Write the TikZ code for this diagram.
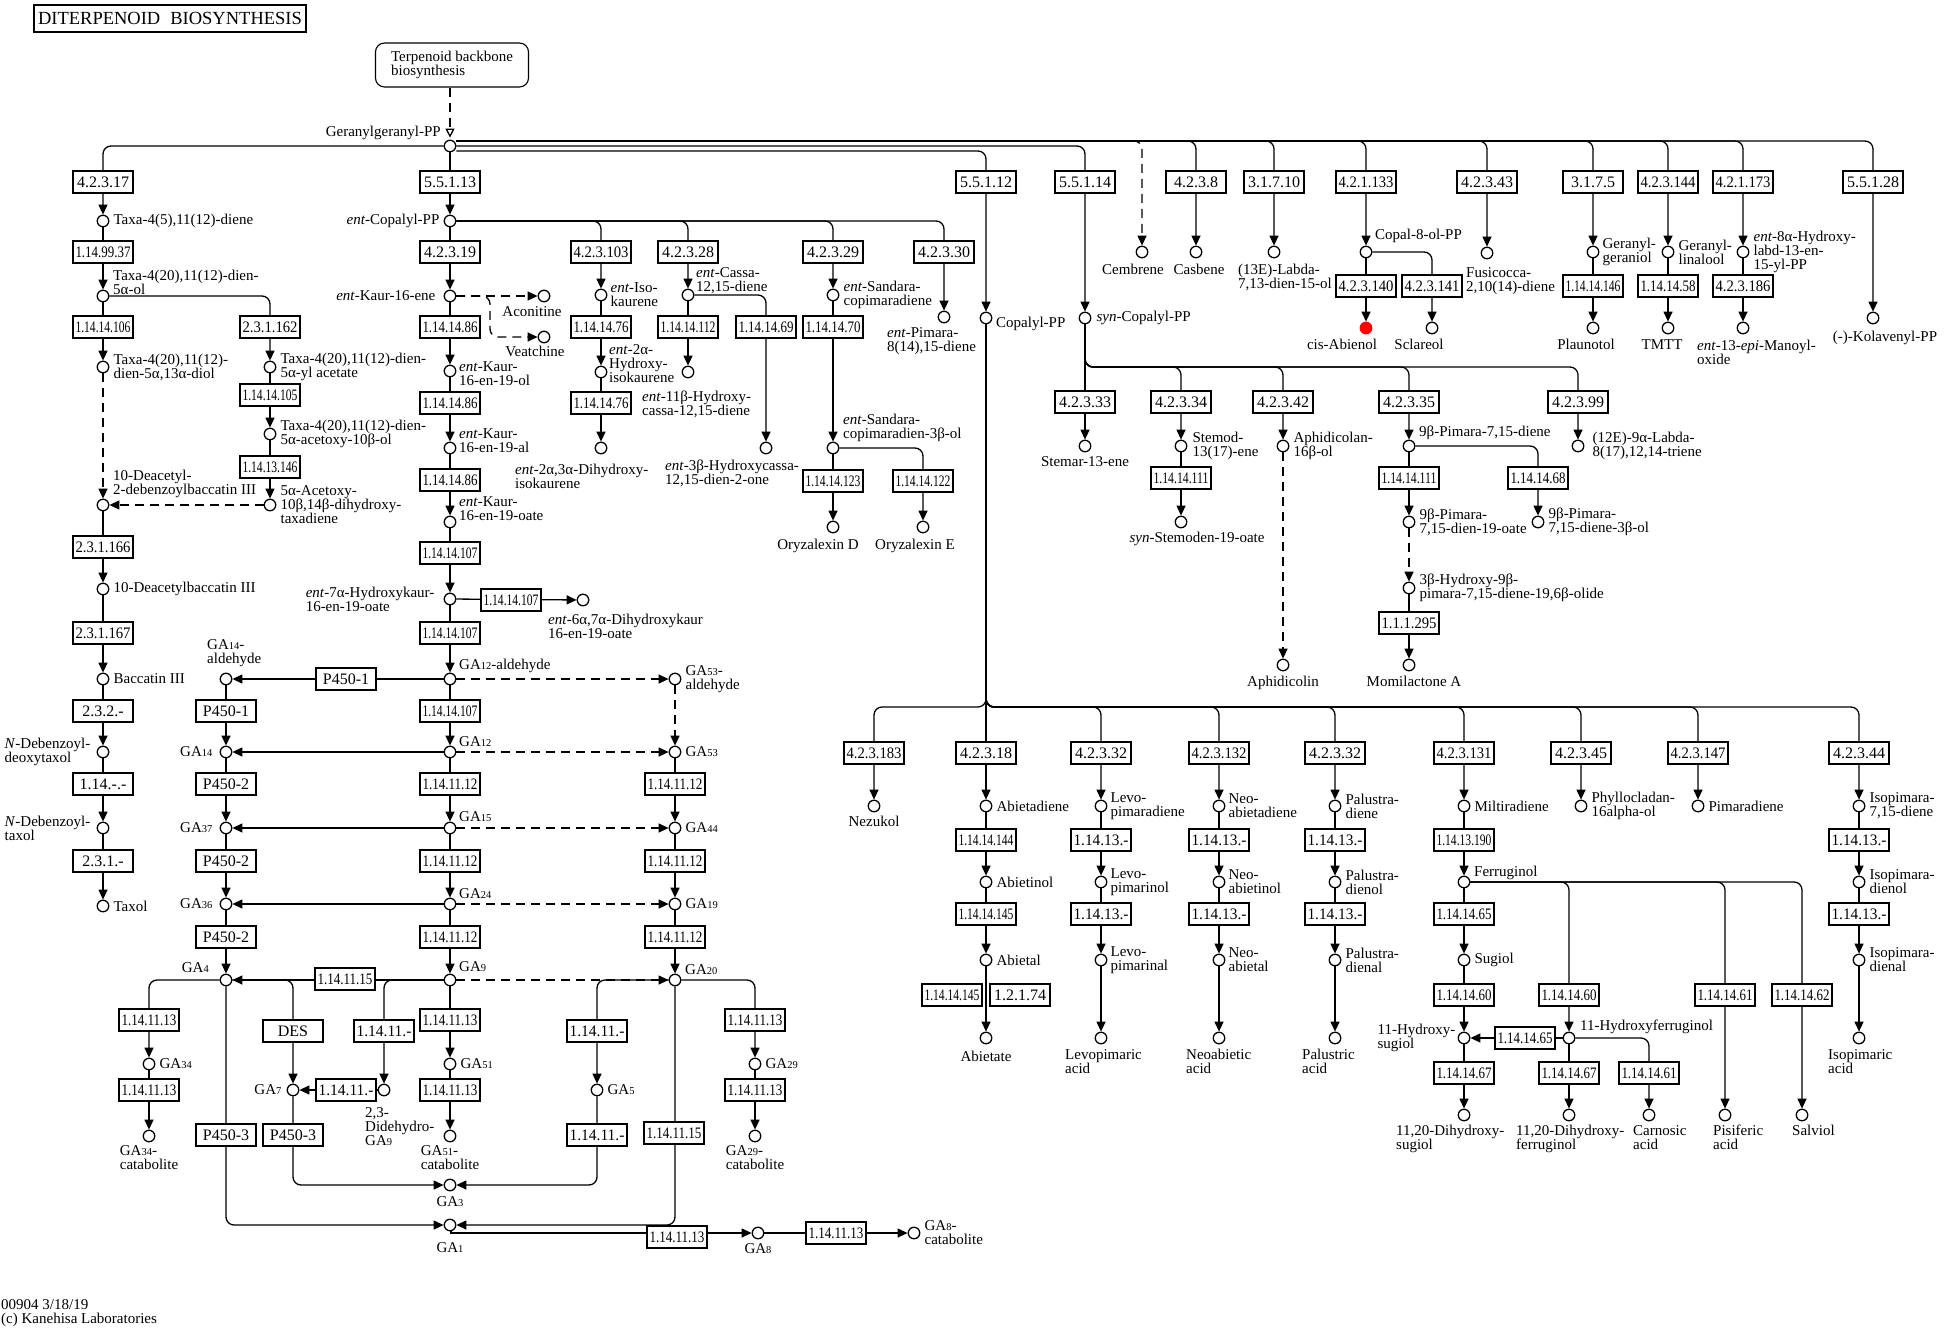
\documentclass[tikz,border=0pt]{standalone}
\usepackage{fontspec}
\setmainfont{Liberation Serif}
\usetikzlibrary{positioning,arrows.meta}
\pgfdeclarelayer{bg}
\pgfsetlayers{bg,main}
\newcommand{\lblfont}{\fontsize{15}{14}\selectfont}
\newcommand{\ecfont}{\fontsize{16}{16}\selectfont}
\newcommand{\titlefont}{\fontsize{18.5}{18.5}\selectfont}
\newcommand{\gan}[1]{GA{\fontsize{10.5}{10.5}\selectfont #1}}
\newcommand{\entp}{\textit{ent}-}
\newcommand{\ecsqueeze}{\ifdim\wd0>55pt\pgfmathsetmacro\ecf{55/\the\wd0}\scalebox{\ecf}[1]{\box0}\else\box0\fi}
\tikzset{
  cpd/.style={circle,draw,line width=1.3pt,minimum size=11.5pt,inner sep=0pt,fill=white},
  hit/.style={cpd,draw=red,fill=red},
  ec/.style={draw,line width=1.1pt,minimum width=60pt,minimum height=22pt,inner sep=0pt,fill=white,font=\ecfont,
    execute at begin node={\setbox0=\hbox\bgroup},execute at end node={\egroup\ecsqueeze}},
  lbl/.style={inner sep=0pt,align=left,font=\lblfont},
  titlebox/.style={draw,line width=2.4pt,minimum width=272pt,minimum height=27pt,font=\titlefont},
  mapbox/.style={draw,line width=1.1pt,rounded corners=9pt,minimum width=153pt,minimum height=44pt,align=left,font=\lblfont},
  cline/.style={line width=1.3pt},
  rxn/.style={cline,-{Triangle[length=10pt,width=9pt]}},
  dlink/.style={dash pattern=on 9pt off 6pt},
  bus/.style={rounded corners=8pt}
}
\begin{document}
\begin{tikzpicture}[x=1pt,y=-1pt]
\useasboundingbox (0,0) rectangle (1944,1330);
\node[titlebox] (title) at (170,18.5) {DITERPENOID\hspace{10pt}BIOSYNTHESIS};
\node[mapbox] (terp) at (452,65) {Terpenoid backbone\\biosynthesis};
\node[cpd] (ggpp) at (450,146) {};
\node[lbl,anchor=east] (ggppl) at (441,133) {Geranylgeranyl-PP};

% taxol
\node[ec] (et1) at (103,182) {4.2.3.17};
\node[cpd] (tx1) at (103,221) {}; \node[lbl,right=4pt of tx1] (tx1l) {Taxa-4(5),11(12)-diene};
\node[ec] (et2) at (103,252) {1.14.99.37};
\node[cpd] (tx2) at (103,296) {}; \node[lbl,anchor=west] (tx2l) at (113,282) {Taxa-4(20),11(12)-dien-\\5α-ol};
\node[ec] (et3) at (103,327) {1.14.14.106}; \node[ec] (et4) at (270,327) {2.3.1.162};
\node[cpd] (tx3) at (103,367) {}; \node[lbl,right=4pt of tx3] (tx3l) {Taxa-4(20),11(12)-\\dien-5α,13α-diol};
\node[cpd] (tx4) at (270,367) {}; \node[lbl,right=4pt of tx4] (tx4l) {Taxa-4(20),11(12)-dien-\\5α-yl acetate};
\node[ec] (et5) at (270,395) {1.14.14.105};
\node[cpd] (tx5) at (270,434) {}; \node[lbl,right=4pt of tx5] (tx5l) {Taxa-4(20),11(12)-dien-\\5α-acetoxy-10β-ol};
\node[ec] (et6) at (270,467) {1.14.13.146};
\node[cpd] (tx6) at (270,505) {}; \node[lbl,right=4pt of tx6] (tx6l) {5α-Acetoxy-\\10β,14β-dihydroxy-\\taxadiene};
\node[cpd] (tx7) at (103,505) {}; \node[lbl,anchor=west] (tx7l) at (113,484) {10-Deacetyl-\\2-debenzoylbaccatin III};
\node[ec] (et7) at (103,547) {2.3.1.166};
\node[cpd] (tx8) at (103,589) {}; \node[lbl,right=4pt of tx8] (tx8l) {10-Deacetylbaccatin III};
\node[ec] (et8) at (103,633) {2.3.1.167};
\node[cpd] (tx9) at (103,679) {}; \node[lbl,right=4pt of tx9] (tx9l) {Baccatin III};
\node[ec] (et9) at (103,711) {2.3.2.-};
\node[cpd] (tx10) at (103,752) {}; \node[lbl,left=6pt of tx10] (tx10l) {\textit{N}-Debenzoyl-\\deoxytaxol};
\node[ec] (et10) at (103,784) {1.14.-.-};
\node[cpd] (tx11) at (103,828) {}; \node[lbl,left=6pt of tx11] (tx11l) {\textit{N}-Debenzoyl-\\taxol};
\node[ec] (et11) at (103,861) {2.3.1.-};
\node[cpd] (tx12) at (103,906) {}; \node[lbl,right=4pt of tx12] (tx12l) {Taxol};

% kaurene and gibberellins
\node[ec] (ek1) at (450,182) {5.5.1.13};
\node[cpd] (ecpp) at (450,221) {}; \node[lbl,left=4pt of ecpp] (ecppl) {\entp Copalyl-PP};
\node[ec] (ek2) at (450,252) {4.2.3.19};
\node[cpd] (kaur) at (450,296) {}; \node[lbl,left=8pt of kaur] (kaurl) {\entp Kaur-16-ene};
\coordinate (kaursplit) at (490,296);
\node[cpd] (aconitine) at (544,296) {}; \node[lbl,anchor=north] (aconitinel) at (532,306) {Aconitine};
\node[cpd] (veatchine) at (544,337) {}; \node[lbl,anchor=north] (veatchinel) at (535,346) {Veatchine};
\node[ec] (ek3) at (450,327) {1.14.14.86};
\node[cpd] (kaurol) at (450,371) {}; \node[lbl,anchor=west] (kauroll) at (459,374) {\entp Kaur-\\16-en-19-ol};
\node[ec] (ek4) at (450,403) {1.14.14.86};
\node[cpd] (kaural) at (450,448) {}; \node[lbl,anchor=west] (kaurall) at (459,441) {\entp Kaur-\\16-en-19-al};
\node[ec] (ek5) at (450,480) {1.14.14.86};
\node[cpd] (kauroate) at (450,522) {}; \node[lbl,anchor=west] (kauroatel) at (459,509) {\entp Kaur-\\16-en-19-oate};
\node[ec] (ek6) at (450,553) {1.14.14.107};
\node[cpd] (hk) at (450,599) {}; \node[lbl,left=9pt of hk] (hkl) {\entp 7α-Hydroxykaur-\\16-en-19-oate};
\node[ec] (ek7) at (511,600) {1.14.14.107};
\node[cpd] (dhk) at (583,600) {}; \node[lbl,anchor=west] (dhkl) at (548,626) {\entp 6α,7α-Dihydroxykaur\\16-en-19-oate};
\node[ec] (ek8) at (450,633) {1.14.14.107};
\node[cpd] (ga12ald) at (450,679) {}; \node[lbl,anchor=west] (ga12aldl) at (459,666) {\gan{12}-aldehyde};
\node[ec] (eg1) at (346,679) {P450-1};
\node[cpd] (ga14ald) at (226,679) {}; \node[lbl,anchor=west] (ga14aldl) at (207,653) {\gan{14}-\\aldehyde};
\node[cpd] (ga53ald) at (675,679) {}; \node[lbl,right=4pt of ga53ald] (ga53aldl) {\gan{53}-\\aldehyde};
\node[ec] (eg2) at (226,711) {P450-1}; \node[ec] (eg3) at (450,711) {1.14.14.107};
\node[cpd] (ga14) at (226,752) {}; \node[lbl,left=7pt of ga14] (ga14l) {\gan{14}};
\node[cpd] (ga12) at (450,752) {}; \node[lbl,anchor=west] (ga12l) at (459,742) {\gan{12}};
\node[cpd] (ga53) at (675,752) {}; \node[lbl,right=4pt of ga53] (ga53l) {\gan{53}};
\node[ec] (eg4) at (226,784) {P450-2}; \node[ec] (eg5) at (450,784) {1.14.11.12}; \node[ec] (eg6) at (675,784) {1.14.11.12};
\node[cpd] (ga37) at (226,828) {}; \node[lbl,left=7pt of ga37] (ga37l) {\gan{37}};
\node[cpd] (ga15) at (450,828) {}; \node[lbl,anchor=west] (ga15l) at (459,817) {\gan{15}};
\node[cpd] (ga44) at (675,828) {}; \node[lbl,right=4pt of ga44] (ga44l) {\gan{44}};
\node[ec] (eg7) at (226,861) {P450-2}; \node[ec] (eg8) at (450,861) {1.14.11.12}; \node[ec] (eg9) at (675,861) {1.14.11.12};
\node[cpd] (ga36) at (226,904) {}; \node[lbl,left=7pt of ga36] (ga36l) {\gan{36}};
\node[cpd] (ga24) at (450,904) {}; \node[lbl,anchor=west] (ga24l) at (459,894) {\gan{24}};
\node[cpd] (ga19) at (675,904) {}; \node[lbl,right=4pt of ga19] (ga19l) {\gan{19}};
\node[ec] (eg10) at (226,937) {P450-2}; \node[ec] (eg11) at (450,937) {1.14.11.12}; \node[ec] (eg12) at (675,937) {1.14.11.12};
\node[cpd] (ga4) at (226,980) {}; \node[lbl,anchor=east] (ga4l) at (209,968) {\gan{4}};
\node[cpd] (ga9) at (450,980) {}; \node[lbl,anchor=west] (ga9l) at (459,967) {\gan{9}};
\node[cpd] (ga20) at (675,980) {}; \node[lbl,anchor=west] (ga20l) at (685,970) {\gan{20}};
\node[ec] (eg13) at (345,979) {1.14.11.15};
\node[ec] (eg14) at (149,1020) {1.14.11.13}; \node[ec] (eg15) at (293,1031) {DES}; \node[ec] (eg16) at (384,1031) {1.14.11.-};
\node[ec] (eg17) at (450,1020) {1.14.11.13}; \node[ec] (eg18) at (597,1031) {1.14.11.-}; \node[ec] (eg19) at (755,1020) {1.14.11.13};
\node[cpd] (ga34) at (149,1064) {}; \node[lbl,right=4pt of ga34] (ga34l) {\gan{34}};
\node[cpd] (ga51) at (450,1064) {}; \node[lbl,right=4pt of ga51] (ga51l) {\gan{51}};
\node[cpd] (ga29) at (755,1064) {}; \node[lbl,right=4pt of ga29] (ga29l) {\gan{29}};
\node[cpd] (ga7) at (293,1090) {}; \node[lbl,left=5pt of ga7] (ga7l) {\gan{7}};
\node[ec] (eg20) at (346,1090) {1.14.11.-};
\node[cpd] (dhga9) at (384,1090) {}; \node[lbl,anchor=west] (dhga9l) at (365,1127) {2,3-\\Didehydro-\\\gan{9}};
\node[cpd] (ga5) at (597,1090) {}; \node[lbl,right=4pt of ga5] (ga5l) {\gan{5}};
\node[ec] (eg21) at (149,1090) {1.14.11.13}; \node[ec] (eg22) at (450,1090) {1.14.11.13}; \node[ec] (eg23) at (755,1090) {1.14.11.13};
\node[ec] (eg24) at (226,1135) {P450-3}; \node[ec] (eg25) at (293,1135) {P450-3};
\node[ec] (eg26) at (597,1135) {1.14.11.-}; \node[ec] (eg27) at (674,1133) {1.14.11.15};
\node[cpd] (ga34c) at (149,1136) {}; \node[lbl,below=3pt of ga34c] (ga34cl) {\gan{34}-\\catabolite};
\node[cpd] (ga51c) at (450,1136) {}; \node[lbl,below=3pt of ga51c] (ga51cl) {\gan{51}-\\catabolite};
\node[cpd] (ga29c) at (755,1136) {}; \node[lbl,below=3pt of ga29c] (ga29cl) {\gan{29}-\\catabolite};
\node[cpd] (ga3) at (450,1185) {}; \node[lbl,below=5pt of ga3] (ga3l) {\gan{3}};
\node[cpd] (ga1) at (450,1225) {}; \node[lbl,anchor=north] (ga1l) at (450,1242) {\gan{1}};
\node[ec] (eg28) at (677,1237) {1.14.11.13};
\node[cpd] (ga8) at (758,1233) {}; \node[lbl,below=4pt of ga8] (ga8l) {\gan{8}};
\node[ec] (eg29) at (836,1233) {1.14.11.13};
\node[cpd] (ga8c) at (914,1233) {}; \node[lbl,right=4pt of ga8c] (ga8cl) {\gan{8}-\\catabolite};

% ent-copalyl-PP side branches
\node[ec] (ec1) at (601,252) {4.2.3.103};
\node[cpd] (iso) at (601,295) {}; \node[lbl,right=3pt of iso] (isol) {\entp Iso-\\kaurene};
\node[ec] (ec2) at (601,327) {1.14.14.76};
\node[cpd] (hiso) at (601,372) {}; \node[lbl,anchor=west] (hisol) at (609,364) {\entp 2α-\\Hydroxy-\\isokaurene};
\node[ec] (ec3) at (601,403) {1.14.14.76};
\node[cpd] (dhiso) at (601,448) {}; \node[lbl,anchor=west] (dhisol) at (515,476) {\entp 2α,3α-Dihydroxy-\\isokaurene};
\node[ec] (ec4) at (688,252) {4.2.3.28};
\node[cpd] (cassa) at (688,295) {}; \node[lbl,anchor=west] (cassal) at (696,281) {\entp Cassa-\\12,15-diene};
\node[ec] (ec5) at (688,327) {1.14.14.112};
\node[cpd] (hcassa) at (688,372) {}; \node[lbl,anchor=west] (hcassal) at (642,404) {\entp 11β-Hydroxy-\\cassa-12,15-diene};
\node[ec] (ec6) at (766,327) {1.14.14.69};
\node[cpd] (hcassaone) at (766,448) {}; \node[lbl,anchor=west] (hcassaonel) at (665,473) {\entp 3β-Hydroxycassa-\\12,15-dien-2-one};
\node[ec] (ec7) at (833,252) {4.2.3.29};
\node[cpd] (sandara) at (833,295) {}; \node[lbl,right=4pt of sandara] (sandaral) {\entp Sandara-\\copimaradiene};
\node[ec] (ec8) at (833,327) {1.14.14.70};
\node[cpd] (sandaraol) at (833,448) {}; \node[lbl,anchor=west] (sandaraoll) at (843,428) {\entp Sandara-\\copimaradien-3β-ol};
\node[ec] (ec9) at (833,481) {1.14.14.123}; \node[ec] (ec10) at (923,481) {1.14.14.122};
\node[cpd] (oryd) at (833,527) {}; \node[lbl,anchor=north] (orydl) at (818,539) {Oryzalexin D};
\node[cpd] (orye) at (923,527) {}; \node[lbl,anchor=north] (oryel) at (915,539) {Oryzalexin E};
\node[ec] (ec11) at (944,252) {4.2.3.30};
\node[cpd] (pimara) at (944,317) {}; \node[lbl,anchor=west] (pimaral) at (887,341) {\entp Pimara-\\8(14),15-diene};

% upper right products
\node[ec] (er1) at (986,182) {5.5.1.12};
\node[cpd] (cpp) at (986,318) {}; \node[lbl,anchor=west] (cppl) at (996,324) {Copalyl-PP};
\node[ec] (er2) at (1085,182) {5.5.1.14};
\node[cpd] (syncpp) at (1085,318) {}; \node[lbl,right=5pt of syncpp] (syncppl) {\textit{syn}-Copalyl-PP};
\node[cpd] (cembrene) at (1142,252) {}; \node[lbl,anchor=north] (cembrenel) at (1133,264) {Cembrene};
\node[ec] (er3) at (1196,182) {4.2.3.8};
\node[cpd] (casbene) at (1196,252) {}; \node[lbl,anchor=north] (casbenel) at (1199,264) {Casbene};
\node[ec] (er4) at (1274,182) {3.1.7.10};
\node[cpd] (labda) at (1274,252) {}; \node[lbl,anchor=north] (labdal) at (1285,264) {(13E)-Labda-\\7,13-dien-15-ol};
\node[ec] (er5) at (1366,182) {4.2.1.133};
\node[cpd] (copal) at (1366,252) {}; \node[lbl,anchor=west] (copall) at (1375,236) {Copal-8-ol-PP};
\node[ec] (er6) at (1366,286) {4.2.3.140}; \node[ec] (er7) at (1432,286) {4.2.3.141};
\node[hit] (cisab) at (1366,328) {}; \node[lbl,anchor=north] (cisabl) at (1342,339) {cis-Abienol};
\node[cpd] (sclareol) at (1432,328) {}; \node[lbl,anchor=north] (sclareoll) at (1419,339) {Sclareol};
\node[ec] (er8) at (1487,182) {4.2.3.43};
\node[cpd] (fusi) at (1487,253) {}; \node[lbl,anchor=west] (fusil) at (1466,281) {Fusicocca-\\2,10(14)-diene};
\node[ec] (er9) at (1593,182) {3.1.7.5};
\node[cpd] (ggol) at (1593,252) {}; \node[lbl,right=3pt of ggol] (ggoll) {Geranyl-\\geraniol};
\node[ec] (er10) at (1593,286) {1.14.14.146};
\node[cpd] (plaunotol) at (1593,328) {}; \node[lbl,anchor=north] (plaunotoll) at (1586,339) {Plaunotol};
\node[ec] (er11) at (1668,182) {4.2.3.144};
\node[cpd] (glin) at (1668,252) {}; \node[lbl,right=4pt of glin] (glinl) {Geranyl-\\linalool};
\node[ec] (er12) at (1668,286) {1.14.14.58};
\node[cpd] (tmtt) at (1668,328) {}; \node[lbl,anchor=north] (tmttl) at (1662,339) {TMTT};
\node[ec] (er13) at (1743,182) {4.2.1.173};
\node[cpd] (hlabd) at (1743,252) {}; \node[lbl,right=4pt of hlabd] (hlabdl) {\entp 8α-Hydroxy-\\labd-13-en-\\15-yl-PP};
\node[ec] (er14) at (1743,286) {4.2.3.186};
\node[cpd] (manoyl) at (1743,328) {}; \node[lbl,anchor=north west] (manoyll) at (1697,340) {\entp 13-\textit{epi}-Manoyl-\\oxide};
\node[ec] (er15) at (1873,182) {5.5.1.28};
\node[cpd] (kolav) at (1873,318) {}; \node[lbl,anchor=north] (kolavl) at (1885,331) {(-)-Kolavenyl-PP};

% syn-copalyl-PP
\coordinate (synbus) at (1085,367);
\node[ec] (es1) at (1085,402) {4.2.3.33};
\node[cpd] (stemar) at (1085,446) {}; \node[lbl,below=4pt of stemar] (stemarl) {Stemar-13-ene};
\node[ec] (es2) at (1181,402) {4.2.3.34};
\node[cpd] (stemod) at (1181,446) {}; \node[lbl,right=5pt of stemod] (stemodl) {Stemod-\\13(17)-ene};
\node[ec] (es3) at (1181,478) {1.14.14.111};
\node[cpd] (stemodoate) at (1181,522) {}; \node[lbl,anchor=north] (stemodoatel) at (1197,532) {\textit{syn}-Stemoden-19-oate};
\node[ec] (es4) at (1283,402) {4.2.3.42};
\node[cpd] (aphol) at (1283,446) {}; \node[lbl,right=4pt of aphol] (apholl) {Aphidicolan-\\16β-ol};
\node[cpd] (aphidicolin) at (1283,665) {}; \node[lbl,below=4pt of aphidicolin] (aphidicolinl) {Aphidicolin};
\node[ec] (es5) at (1409,402) {4.2.3.35};
\node[cpd] (pim) at (1409,446) {}; \node[lbl,anchor=west] (piml) at (1419,433) {9β-Pimara-7,15-diene};
\node[ec] (es6) at (1409,478) {1.14.14.111};
\node[cpd] (pimoate) at (1409,522) {}; \node[lbl,right=4pt of pimoate] (pimoatel) {9β-Pimara-\\7,15-dien-19-oate};
\node[cpd] (hpim) at (1409,588) {}; \node[lbl,right=4pt of hpim] (hpiml) {3β-Hydroxy-9β-\\pimara-7,15-diene-19,6β-olide};
\node[ec] (es7) at (1409,623) {1.1.1.295};
\node[cpd] (momil) at (1409,665) {}; \node[lbl,anchor=north] (momill) at (1414,676) {Momilactone A};
\node[ec] (es8) at (1538,478) {1.14.14.68};
\node[cpd] (pim3ol) at (1538,522) {}; \node[lbl,right=4pt of pim3ol] (pim3oll) {9β-Pimara-\\7,15-diene-3β-ol};
\node[ec] (es9) at (1578,402) {4.2.3.99};
\node[cpd] (ltriene) at (1578,446) {}; \node[lbl,right=8pt of ltriene] (ltrienel) {(12E)-9α-Labda-\\8(17),12,14-triene};

% copalyl-PP
\coordinate (cppbus) at (986,707);
\node[ec] (en1) at (874,753) {4.2.3.183};
\node[cpd] (nezukol) at (874,806) {}; \node[lbl,below=3pt of nezukol] (nezukoll) {Nezukol};
\node[ec] (ea1) at (986,753) {4.2.3.18};
\node[cpd] (abd) at (986,806) {}; \node[lbl,right=4pt of abd] (abdl) {Abietadiene};
\node[ec] (ea2) at (986,840) {1.14.14.144};
\node[cpd] (abnol) at (986,882) {}; \node[lbl,right=4pt of abnol] (abnoll) {Abietinol};
\node[ec] (ea3) at (986,914) {1.14.14.145};
\node[cpd] (abal) at (986,960) {}; \node[lbl,right=4pt of abal] (aball) {Abietal};
\node[ec] (ea4) at (952,995) {1.14.14.145}; \node[ec] (ea5) at (1020,995) {1.2.1.74};
\node[cpd] (abate) at (986,1038) {}; \node[lbl,below=6pt of abate] (abatel) {Abietate};
\node[ec] (el1) at (1101,753) {4.2.3.32};
\node[cpd] (lv1) at (1101,806) {}; \node[lbl,right=3pt of lv1] (lv1l) {Levo-\\pimaradiene};
\node[ec] (el2) at (1101,840) {1.14.13.-};
\node[cpd] (lv2) at (1101,882) {}; \node[lbl,right=3pt of lv2] (lv2l) {Levo-\\pimarinol};
\node[ec] (el3) at (1101,914) {1.14.13.-};
\node[cpd] (lv3) at (1101,960) {}; \node[lbl,right=3pt of lv3] (lv3l) {Levo-\\pimarinal};
\node[cpd] (lv4) at (1101,1038) {}; \node[lbl,anchor=north west] (lv4l) at (1065,1049) {Levopimaric\\acid};
\node[ec] (eo1) at (1219,753) {4.2.3.132};
\node[cpd] (ne1) at (1219,806) {}; \node[lbl,right=3pt of ne1] (ne1l) {Neo-\\abietadiene};
\node[ec] (eo2) at (1219,840) {1.14.13.-};
\node[cpd] (ne2) at (1219,882) {}; \node[lbl,right=3pt of ne2] (ne2l) {Neo-\\abietinol};
\node[ec] (eo3) at (1219,914) {1.14.13.-};
\node[cpd] (ne3) at (1219,960) {}; \node[lbl,right=3pt of ne3] (ne3l) {Neo-\\abietal};
\node[cpd] (ne4) at (1219,1038) {}; \node[lbl,anchor=north west] (ne4l) at (1186,1049) {Neoabietic\\acid};
\node[ec] (ep1) at (1335,753) {4.2.3.32};
\node[cpd] (pa1) at (1335,806) {}; \node[lbl,right=4pt of pa1] (pa1l) {Palustra-\\diene};
\node[ec] (ep2) at (1335,840) {1.14.13.-};
\node[cpd] (pa2) at (1335,882) {}; \node[lbl,right=4pt of pa2] (pa2l) {Palustra-\\dienol};
\node[ec] (ep3) at (1335,914) {1.14.13.-};
\node[cpd] (pa3) at (1335,960) {}; \node[lbl,right=4pt of pa3] (pa3l) {Palustra-\\dienal};
\node[cpd] (pa4) at (1335,1038) {}; \node[lbl,anchor=north west] (pa4l) at (1302,1049) {Palustric\\acid};
\node[ec] (em1) at (1464,753) {4.2.3.131};
\node[cpd] (milti) at (1464,806) {}; \node[lbl,right=4pt of milti] (miltil) {Miltiradiene};
\node[ec] (em2) at (1464,840) {1.14.13.190};
\node[cpd] (ferr) at (1464,882) {}; \node[lbl,anchor=west] (ferrl) at (1474,873) {Ferruginol};
\node[ec] (em3) at (1464,914) {1.14.14.65};
\node[cpd] (sugiol) at (1464,960) {}; \node[lbl,right=4pt of sugiol] (sugioll) {Sugiol};
\node[ec] (em4) at (1464,995) {1.14.14.60};
\node[cpd] (hsug) at (1464,1038) {}; \node[lbl,left=2pt of hsug] (hsugl) {11-Hydroxy-\\sugiol};
\node[ec] (em5) at (1464,1073) {1.14.14.67};
\node[cpd] (dhsug) at (1464,1115) {}; \node[lbl,anchor=north west] (dhsugl) at (1396,1125) {11,20-Dihydroxy-\\sugiol};
\node[ec] (em6) at (1569,995) {1.14.14.60};
\node[cpd] (hferr) at (1569,1038) {}; \node[lbl,anchor=west] (hferrl) at (1580,1027) {11-Hydroxyferruginol};
\node[ec] (em7) at (1525,1038) {1.14.14.65};
\node[ec] (em8) at (1569,1073) {1.14.14.67};
\node[cpd] (dhferr) at (1569,1115) {}; \node[lbl,anchor=north west] (dhferrl) at (1516,1125) {11,20-Dihydroxy-\\ferruginol};
\node[ec] (em9) at (1649,1073) {1.14.14.61};
\node[cpd] (carnosic) at (1649,1115) {}; \node[lbl,anchor=north west] (carnosicl) at (1633,1125) {Carnosic\\acid};
\node[ec] (em10) at (1725,995) {1.14.14.61};
\node[cpd] (pisif) at (1725,1115) {}; \node[lbl,anchor=north west] (pisifl) at (1713,1125) {Pisiferic\\acid};
\node[ec] (em11) at (1802,995) {1.14.14.62};
\node[cpd] (salviol) at (1802,1115) {}; \node[lbl,anchor=north west] (salvioll) at (1792,1125) {Salviol};
\node[ec] (eh1) at (1581,753) {4.2.3.45};
\node[cpd] (phyllo) at (1581,806) {}; \node[lbl,right=4pt of phyllo] (phyllol) {Phyllocladan-\\16alpha-ol};
\node[ec] (ei1) at (1698,753) {4.2.3.147};
\node[cpd] (pmd) at (1698,806) {}; \node[lbl,right=4pt of pmd] (pmdl) {Pimaradiene};
\node[ec] (ej1) at (1859,753) {4.2.3.44};
\node[cpd] (ip1) at (1859,806) {}; \node[lbl,right=4pt of ip1] (ip1l) {Isopimara-\\7,15-diene};
\node[ec] (ej2) at (1859,840) {1.14.13.-};
\node[cpd] (ip2) at (1859,882) {}; \node[lbl,right=4pt of ip2] (ip2l) {Isopimara-\\dienol};
\node[ec] (ej3) at (1859,914) {1.14.13.-};
\node[cpd] (ip3) at (1859,960) {}; \node[lbl,right=4pt of ip3] (ip3l) {Isopimara-\\dienal};
\node[cpd] (ip4) at (1859,1038) {}; \node[lbl,anchor=north west] (ip4l) at (1828,1049) {Isopimaric\\acid};

\node[lbl,anchor=south west] (foot) at (1,1327) {00904 3/18/19\\(c) Kanehisa Laboratories};

\begin{pgfonlayer}{bg}
\draw[cline,dlink,-{Triangle[open,length=9pt,width=9pt]},shorten >=2pt] (terp.south -| ggpp) -- (ggpp);
\draw[rxn,bus] (ggpp) -| (tx1); \draw[rxn] (ggpp) -- (ecpp);
\draw[rxn,bus] ([yshift=-5pt]ggpp.east) -| (cpp); \draw[rxn,bus] (ggpp) -| (syncpp);
\draw[rxn,bus,dlink] ([yshift=5pt]ggpp.east) -| (cembrene);
\draw[rxn,bus] ([yshift=5pt]ggpp.east) -| (casbene); \draw[rxn,bus] ([yshift=5pt]ggpp.east) -| (labda);
\draw[rxn,bus] ([yshift=5pt]ggpp.east) -| (copal); \draw[rxn,bus] ([yshift=5pt]ggpp.east) -| (fusi);
\draw[rxn,bus] ([yshift=5pt]ggpp.east) -| (ggol); \draw[rxn,bus] ([yshift=5pt]ggpp.east) -| (glin);
\draw[rxn,bus] ([yshift=5pt]ggpp.east) -| (hlabd); \draw[rxn,bus] ([yshift=5pt]ggpp.east) -| (kolav);

\draw[rxn] (tx1) -- (tx2); \draw[rxn] (tx2) -- (tx3); \draw[rxn,bus] (tx2) -| (tx4);
\draw[rxn,dlink] (tx3) -- (tx7); \draw[rxn] (tx4) -- (tx5); \draw[rxn] (tx5) -- (tx6);
\draw[rxn,dlink] (tx6) -- (tx7); \draw[rxn] (tx7) -- (tx8); \draw[rxn] (tx8) -- (tx9);
\draw[rxn] (tx9) -- (tx10); \draw[rxn] (tx10) -- (tx11); \draw[rxn] (tx11) -- (tx12);

\draw[rxn] (ecpp) -- (kaur); \draw[rxn] (kaur) -- (kaurol); \draw[rxn] (kaurol) -- (kaural);
\draw[rxn] (kaural) -- (kauroate); \draw[rxn] (kauroate) -- (hk); \draw[rxn] (hk) -- (dhk);
\draw[rxn,dlink] (kaur) -- (aconitine); \draw[rxn,dlink,bus] (kaur) -- (kaursplit) |- (veatchine);
\draw[rxn] (hk) -- (ga12ald); \draw[rxn] (ga12ald) -- (ga14ald); \draw[rxn,dlink] (ga12ald) -- (ga53ald);
\draw[rxn] (ga12ald) -- (ga12); \draw[rxn] (ga14ald) -- (ga14); \draw[rxn,dlink] (ga53ald) -- (ga53);
\draw[rxn] (ga12) -- (ga14); \draw[rxn,dlink] (ga12) -- (ga53); \draw[rxn] (ga12) -- (ga15);
\draw[rxn] (ga14) -- (ga37); \draw[rxn] (ga53) -- (ga44);
\draw[rxn] (ga15) -- (ga37); \draw[rxn,dlink] (ga15) -- (ga44); \draw[rxn] (ga15) -- (ga24);
\draw[rxn] (ga37) -- (ga36); \draw[rxn] (ga44) -- (ga19);
\draw[rxn] (ga24) -- (ga36); \draw[rxn,dlink] (ga24) -- (ga19); \draw[rxn] (ga24) -- (ga9);
\draw[rxn] (ga36) -- (ga4); \draw[rxn] (ga19) -- (ga20);
\draw[rxn] (ga9) -- (ga4); \draw[rxn,dlink] (ga9) -- (ga20);
\draw[rxn,bus] (ga4) -| (ga34); \draw[rxn,bus] (ga4) -| (ga7); \draw[rxn,bus] (ga4) |- (ga1);
\draw[rxn,bus] (ga9) -| (dhga9); \draw[rxn] (ga9) -- (ga51);
\draw[rxn,bus] (ga20) -| (ga5); \draw[rxn,bus] (ga20) -| (ga29); \draw[rxn,bus] (ga20) |- (ga1);
\draw[rxn] (ga34) -- (ga34c); \draw[rxn] (ga51) -- (ga51c); \draw[rxn] (ga29) -- (ga29c);
\draw[rxn] (dhga9) -- (ga7); \draw[rxn,bus] (ga7) |- (ga3); \draw[rxn,bus] (ga5) |- (ga3);
\draw[rxn] (ga1.-80) |- (ga8); \draw[rxn] (ga8) -- (ga8c);

\draw[rxn,bus] (ecpp) -| (iso); \draw[rxn,bus] (ecpp) -| (cassa);
\draw[rxn,bus] (ecpp) -| (sandara); \draw[rxn,bus] (ecpp) -| (pimara);
\draw[rxn] (iso) -- (hiso); \draw[rxn] (hiso) -- (dhiso);
\draw[rxn] (cassa) -- (hcassa); \draw[rxn,bus] (cassa) -| (hcassaone);
\draw[rxn] (sandara) -- (sandaraol); \draw[rxn] (sandaraol) -- (oryd); \draw[rxn,bus] (sandaraol) -| (orye);

\draw[rxn] (copal) -- (cisab); \draw[rxn,bus] (copal) -| (sclareol);
\draw[rxn] (ggol) -- (plaunotol); \draw[rxn] (glin) -- (tmtt); \draw[rxn] (hlabd) -- (manoyl);

\draw[rxn] (syncpp) -- (stemar);
\draw[rxn,bus] (syncpp) -- (synbus) -| (stemod); \draw[rxn,bus] (syncpp) -- (synbus) -| (aphol);
\draw[rxn,bus] (syncpp) -- (synbus) -| (pim); \draw[rxn,bus] (syncpp) -- (synbus) -| (ltriene);
\draw[rxn] (stemod) -- (stemodoate); \draw[rxn,dlink] (aphol) -- (aphidicolin);
\draw[rxn] (pim) -- (pimoate); \draw[rxn,dlink] (pimoate) -- (hpim); \draw[rxn] (hpim) -- (momil);
\draw[rxn,bus] (pim) -| (pim3ol);

\draw[rxn] (cpp) -- (abd);
\draw[rxn,bus] (cpp) -- (cppbus) -| (nezukol); \draw[rxn,bus] (cpp) -- (cppbus) -| (lv1);
\draw[rxn,bus] (cpp) -- (cppbus) -| (ne1); \draw[rxn,bus] (cpp) -- (cppbus) -| (pa1);
\draw[rxn,bus] (cpp) -- (cppbus) -| (milti); \draw[rxn,bus] (cpp) -- (cppbus) -| (phyllo);
\draw[rxn,bus] (cpp) -- (cppbus) -| (pmd); \draw[rxn,bus] (cpp) -- (cppbus) -| (ip1);
\draw[rxn] (abd) -- (abnol); \draw[rxn] (abnol) -- (abal); \draw[rxn] (abal) -- (abate);
\draw[rxn] (lv1) -- (lv2); \draw[rxn] (lv2) -- (lv3); \draw[rxn] (lv3) -- (lv4);
\draw[rxn] (ne1) -- (ne2); \draw[rxn] (ne2) -- (ne3); \draw[rxn] (ne3) -- (ne4);
\draw[rxn] (pa1) -- (pa2); \draw[rxn] (pa2) -- (pa3); \draw[rxn] (pa3) -- (pa4);
\draw[rxn] (ip1) -- (ip2); \draw[rxn] (ip2) -- (ip3); \draw[rxn] (ip3) -- (ip4);
\draw[rxn] (milti) -- (ferr); \draw[rxn] (ferr) -- (sugiol); \draw[rxn] (sugiol) -- (hsug); \draw[rxn] (hsug) -- (dhsug);
\draw[rxn,bus] (ferr) -| (hferr); \draw[rxn,bus] (ferr) -| (pisif); \draw[rxn,bus] (ferr) -| (salviol);
\draw[rxn] (hferr) -- (hsug); \draw[rxn] (hferr) -- (dhferr); \draw[rxn,bus] (hferr) -| (carnosic);
\end{pgfonlayer}
\end{tikzpicture}
\end{document}
